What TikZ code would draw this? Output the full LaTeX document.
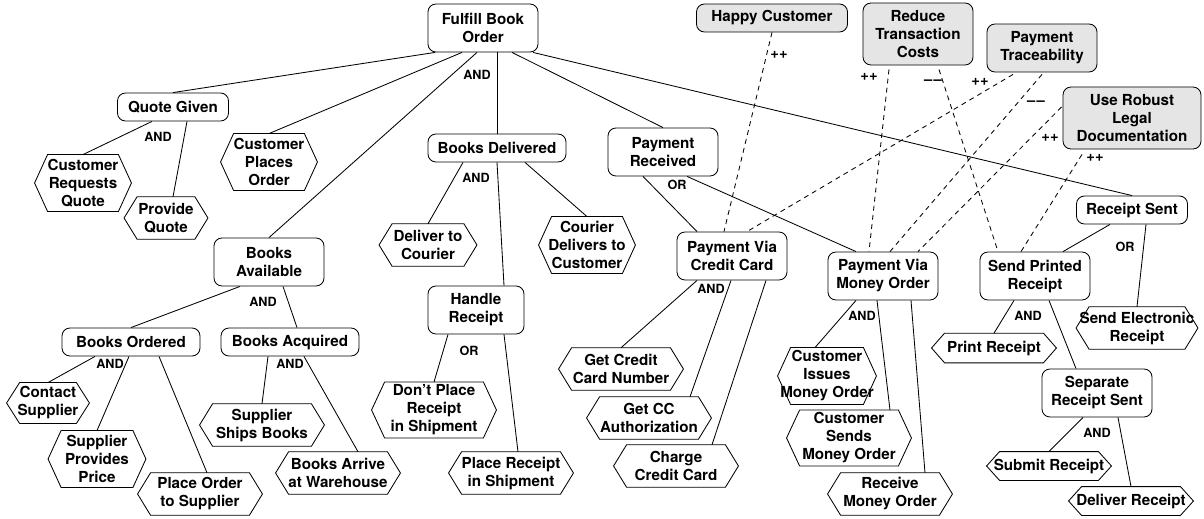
\documentclass[tikz,border=0pt]{standalone}
\usepackage{fontspec}
\setmainfont{TeX Gyre Heros}
\usetikzlibrary{calc}

\newcommand{\diagfont}{\fontsize{10.8}{12.8}\selectfont\bfseries}
\newcommand{\linkfont}{\fontsize{9}{10}\selectfont\bfseries}
\newcommand{\signfont}{\fontsize{10.5}{11}\selectfont\bfseries}

\begin{document}
\begin{tikzpicture}[
    x=0.025cm, y=-0.025cm,
    line width=0.6pt,
    goal/.style={draw, rounded corners=0.2cm, align=center, font=\diagfont, inner sep=1pt, minimum width=2.75cm, minimum height=0.7cm},
    softgoal/.style={goal, fill=gray!20},
    twoline/.style={minimum height=1.2cm},
    threeline/.style={minimum height=1.55cm},
    task/.style={align=center, font=\diagfont, inner sep=0pt, minimum width=3.1cm, minimum height=1.04cm},
    op/.style={font=\linkfont},
    contrib/.style={dash pattern=on 3.5pt off 3pt},
    contriblabel/.style={font=\signfont}
]
\useasboundingbox (0,0) rectangle (1204,519);

% Goals
\node[goal, twoline] (fulfill) at (483,28) {Fulfill Book\\Order};
\node[goal, minimum width=2.775cm] (quote) at (173,107) {Quote Given};
\node[goal, minimum width=3.45cm] (delivered) at (497,148) {Books Delivered};
\node[goal, twoline] (received) at (663,152) {Payment\\Received};
\node[goal, twoline] (available) at (269,262) {Books\\Available};
\node[goal, minimum width=3.45cm] (ordered) at (131,342) {Books Ordered};
\node[goal, minimum width=3.45cm] (acquired) at (290,342) {Books Acquired};
\node[goal, twoline, minimum width=2.4cm] (handle) at (476,310) {Handle\\Receipt};
\node[goal, twoline] (viacc) at (732,256) {Payment Via\\Credit Card};
\node[goal, twoline] (viamo) at (883,276) {Payment Via\\Money Order};
\node[goal, minimum width=2.775cm] (sent) at (1132,210) {Receipt Sent};
\node[goal, twoline] (printed) at (1035,276) {Send Printed\\Receipt};
\node[goal, twoline] (separate) at (1097,393) {Separate\\Receipt Sent};

% Softgoals
\node[softgoal, minimum width=3.775cm] (happy) at (772,18) {Happy Customer};
\node[softgoal, threeline] (costs) at (918,34) {Reduce\\Transaction\\Costs};
\node[softgoal, twoline] (trace) at (1042,48) {Payment\\Traceability};
\node[softgoal, threeline, minimum width=3.45cm] (legal) at (1132,118) {Use Robust\\Legal\\Documentation};

% Tasks
\node[task, minimum width=2.4cm, minimum height=1.4cm] (reqquote) at (83,183) {Customer\\Requests\\Quote};
\node[task, minimum width=2.075cm] (provide) at (166,218) {Provide\\Quote};
\node[task, minimum width=2.4cm, minimum height=1.4cm] (places) at (269,162) {Customer\\Places\\Order};
\node[task, minimum width=2.425cm] (tocourier) at (428,245) {Deliver to\\Courier};
\node[task, minimum width=2.4cm, minimum height=1.4cm] (courier) at (587,245) {Courier\\Delivers to\\Customer};
\node[task, minimum width=2.05cm, minimum height=1cm] (contact) at (48,403) {Contact\\Supplier};
\node[task, minimum width=2.425cm, minimum height=1.4cm] (price) at (97,459) {Supplier\\Provides\\Price};
\node[task] (placeorder) at (200,494) {Place Order\\to Supplier};
\node[task] (ships) at (262,425) {Supplier\\Ships Books};
\node[task] (arrive) at (338,473) {Books Arrive\\at Warehouse};
\node[task, minimum height=1.375cm] (dontplace) at (434,410) {Don't Place\\Receipt\\in Shipment};
\node[task] (placercpt) at (511,473) {Place Receipt\\in Shipment};
\node[task] (ccnumber) at (621,369) {Get Credit\\Card Number};
\node[task] (ccauth) at (649,418) {Get CC\\Authorization};
\node[task] (charge) at (676,466) {Charge\\Credit Card};
\node[task, minimum width=2.45cm, minimum height=1.4cm] (issues) at (827,376) {Customer\\Issues\\Money Order};
\node[task, minimum height=1.375cm] (sends) at (849,438) {Customer\\Sends\\Money Order};
\node[task] (receive) at (890,494) {Receive\\Money Order};
\node[task, minimum height=0.72cm] (print) at (994,348) {Print Receipt};
\node[task, minimum width=3.025cm] (electronic) at (1137,328) {Send Electronic\\Receipt};
\node[task, minimum height=0.7cm] (submit) at (1049,466) {Submit Receipt};
\node[task, minimum height=0.7cm] (deliver) at (1131,501) {Deliver Receipt};

\foreach \t in {reqquote,provide,places,tocourier,courier,contact,price,placeorder,ships,arrive,
                dontplace,placercpt,ccnumber,ccauth,charge,issues,sends,receive,print,electronic,submit,deliver}
  \draw ($(\t.north west)+(13,0)$) -- ($(\t.north east)+(-13,0)$) -- (\t.east)
        -- ($(\t.south east)+(-13,0)$) -- ($(\t.south west)+(13,0)$) -- (\t.west) -- cycle;

% Decompositions
\draw ($(fulfill.south)+(-48,0)$) -- (quote.north);
\draw ($(fulfill.south)+(-21,0)$) -- (places.north);
\draw ($(fulfill.south)+(-6,0)$) -- (available.north);
\draw ($(fulfill.south)+(14,0)$) -- (delivered.north);
\draw ($(fulfill.south)+(29,0)$) -- (received.north);
\draw ($(fulfill.south)+(50,0)$) -- (sent.north);
\draw ($(quote.south)+(-21,0)$) -- (reqquote.north);
\draw ($(quote.south)+(14,0)$) -- ($(provide.north)+(7,0)$);
\draw ($(delivered.south)+(-34,0)$) -- (tocourier.north);
\draw (delivered.south) -- ($(handle.north)+(28,0)$);
\draw ($(delivered.south)+(28,0)$) -- (courier.north);
\draw ($(received.south)+(-20,0)$) -- ($(viacc.north)+(-35,0)$);
\draw ($(received.south)+(24,0)$) -- ($(viamo.north)+(-27,0)$);
\draw ($(sent.south)+(-22,0)$) -- ($(printed.north)+(28,0)$);
\draw ($(sent.south)+(14,0)$) -- (electronic.north);
\draw ($(available.south)+(-29,0)$) -- (ordered.north);
\draw ($(available.south)+(14,0)$) -- ($(acquired.north)+(7,0)$);
\draw ($(ordered.south)+(-36,0)$) -- (contact.north);
\draw ($(ordered.south)+(-2,0)$) -- (price.north);
\draw ($(ordered.south)+(28,0)$) -- ($(placeorder.north)+(7,0)$);
\draw ($(acquired.south)+(-22,0)$) -- (ships.north);
\draw ($(acquired.south)+(14,0)$) -- ($(arrive.north)+(20,0)$);
\draw ($(handle.south)+(-28,0)$) -- (dontplace.north);
\draw ($(handle.south)+(28,0)$) -- ($(placercpt.north)+(7,0)$);
\draw ($(viacc.south)+(-35,0)$) -- (ccnumber.north);
\draw ($(viacc.south)+(-1,0)$) -- ($(ccauth.north)+(41,0)$);
\draw ($(viacc.south)+(34,0)$) -- ($(charge.north)+(36,0)$);
\draw ($(viamo.south)+(-27,0)$) -- ($(issues.north)+(-12,0)$);
\draw ($(viamo.south)+(-6,0)$) -- ($(sends.north)+(41,0)$);
\draw ($(viamo.south)+(28,0)$) -- ($(receive.north)+(35,0)$);
\draw ($(printed.south)+(-21,0)$) -- (print.north);
\draw ($(printed.south)+(14,0)$) -- ($(separate.north)+(-21,0)$);
\draw ($(separate.south)+(-14,0)$) -- (submit.north);
\draw ($(separate.south)+(21,0)$) -- (deliver.north);

% AND / OR labels
\node[op] (fulfilland) at (477,75) {AND};
\node[op] (quoteand) at (158,137) {AND};
\node[op] (deliveredand) at (476,178) {AND};
\node[op] (receivedor) at (677,185) {OR};
\node[op] (availableand) at (263,302) {AND};
\node[op] (orderedand) at (110,364) {AND};
\node[op] (acquiredand) at (290,364) {AND};
\node[op] (handleor) at (469,351) {OR};
\node[op] (viaccand) at (711,289) {AND};
\node[op] (viamoand) at (862,316) {AND};
\node[op] (printedand) at (1028,316) {AND};
\node[op] (sentor) at (1125,247) {OR};
\node[op] (separateand) at (1097,433) {AND};

% Contributions
\draw[contrib] (happy.south) -- ($(viacc.north)+(-8,0)$);
\draw[contrib] ($(costs.south)+(-29,4)$) -- ($(viamo.north)+(-14,0)$);
\draw[contrib] ($(costs.south)+(21,4)$) -- ($(printed.north)+(-37,0)$);
\draw[contrib] ($(trace.south)+(-29,2)$) -- ($(viacc.north)+(15,0)$);
\draw[contrib] ($(trace.south)+(0,2)$) -- ($(viamo.north)+(7,0)$);
\draw[contrib] ($(legal.west)+(-1,-11)$) -- ($(viamo.north)+(35,0)$);
\draw[contrib] ($(legal.south)+(-50,5)$) -- ($(printed.north)+(-14,0)$);

\node[contriblabel] (happyplus) at (779,55) {++};
\node[contriblabel] (costsplus) at (869,77) {++};
\node[contriblabel] (costsminus) at (933,82) {\textendash\kern1pt\textendash};
\node[contriblabel] (traceplus) at (980,82) {++};
\node[contriblabel] (traceminus) at (1036,103) {\textendash\kern1pt\textendash};
\node[contriblabel] (legalplus) at (1050,138) {++};
\node[contriblabel] (legalplusb) at (1095,158) {++};

\end{tikzpicture}
\end{document}
